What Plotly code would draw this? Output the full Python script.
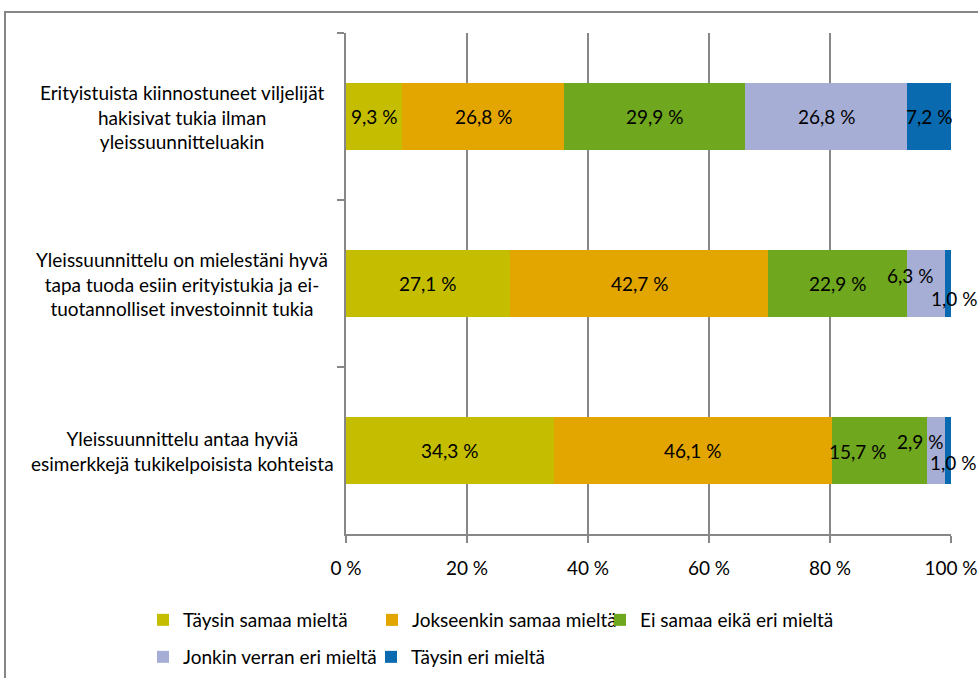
import plotly.graph_objects as go

# ---- data ----
categories = [
    "Erityistuista kiinnostuneet viljelijät<br>hakisivat tukia ilman<br>yleissuunnitteluakin",
    "Yleissuunnittelu on mielestäni hyvä<br>tapa tuoda esiin erityistukia ja ei-<br>tuotannolliset investoinnit tukia",
    "Yleissuunnittelu antaa hyviä<br>esimerkkejä tukikelpoisista kohteista",
]
series_names = [
    "Täysin samaa mieltä",
    "Jokseenkin samaa mieltä",
    "Ei samaa eikä eri mieltä",
    "Jonkin verran eri mieltä",
    "Täysin eri mieltä",
]
taysin_samaa = [9.3, 27.1, 34.3]
jokseenkin_samaa = [26.8, 42.7, 46.1]
ei_samaa_eika_eri = [29.9, 22.9, 15.7]
jonkin_verran_eri = [26.8, 6.3, 2.9]
taysin_eri = [7.2, 1.0, 1.0]
x_tick_values = [0, 20, 40, 60, 80, 100]
x_tick_labels = ["0 %", "20 %", "40 %", "60 %", "80 %", "100 %"]

series_values = [taysin_samaa, jokseenkin_samaa, ei_samaa_eika_eri, jonkin_verran_eri, taysin_eri]
colors = ["#C5BE00", "#E3A500", "#6FA71E", "#A6AED6", "#0A6AAF"]

FONT = "Lato"
FS = 19
L, R, T, B = 346, 27, 33, 144
W, H = 978, 678
PW = W - L - R
PH = H - T - B

def px_x(px):
    return (px - L) / PW

def px_y(py):
    return 1 - (py - T) / PH

# legend item placement (left edge px, centre y px)
legend_pos = [(143, 620), (372, 620), (600, 620), (143, 657), (371, 657)]

fig = go.Figure()
legend_layout = {}
for i, (name, vals) in enumerate(zip(series_names, series_values)):
    lg = "legend" if i == 0 else f"legend{i + 1}"
    fig.add_trace(go.Bar(
        y=categories, x=vals, name=name, orientation="h",
        marker=dict(color=colors[i], line=dict(width=0)),
        legend=lg, hoverinfo="x+name",
    ))
    lx, ly = legend_pos[i]
    legend_layout[lg] = dict(
        orientation="h", x=px_x(lx), xanchor="left", y=px_y(ly), yanchor="middle",
        bgcolor="rgba(0,0,0,0)", borderwidth=0,
        font=dict(family=FONT, size=FS, color="#000000"),
    )

# label offsets for small segments (pixel nudges)
offsets = {
    (3, 1): (-16, 8), (4, 1): (6, -15),
    (2, 2): (-22, -1), (3, 2): (-16, 9), (4, 2): (5, -12),
}
annotations = []
for j, cat in enumerate(categories):
    start = 0.0
    for i, vals in enumerate(series_values):
        v = vals[j]
        dx, dy = offsets.get((i, j), (0, 0))
        annotations.append(dict(
            x=start + v / 2, y=cat, xref="x", yref="y",
            text=f"{v:.1f}".replace(".", ",") + " %",
            showarrow=False, xshift=dx, yshift=dy,
            font=dict(family=FONT, size=FS, color="#000000"),
        ))
        start += v
    annotations.append(dict(
        x=px_x(182), y=cat, xref="paper", yref="y", xanchor="center",
        text=cat, align="center", showarrow=False,
        font=dict(family=FONT, size=FS, color="#000000"),
    ))

fig.update_layout(
    width=W, height=H,
    margin=dict(l=L, r=R, t=T, b=B, autoexpand=False),
    barmode="stack", bargap=0.6,
    plot_bgcolor="white", paper_bgcolor="white",
    font=dict(family=FONT, size=FS, color="#000000"),
    annotations=annotations,
    xaxis=dict(
        range=[0, 100], tickmode="array", tickvals=x_tick_values, ticktext=x_tick_labels,
        showgrid=True, gridcolor="#878787", gridwidth=2,
        showline=True, linecolor="#878787", linewidth=2,
        ticks="outside", ticklen=7, tickwidth=2, tickcolor="#878787",
        zeroline=False, ticklabelstandoff=9,
        tickfont=dict(family=FONT, size=FS, color="#000000"),
        fixedrange=True,
    ),
    yaxis=dict(
        type="category", categoryorder="array", categoryarray=categories,
        autorange="reversed", showticklabels=False, showgrid=False,
        showline=True, linecolor="#878787", linewidth=2,
        ticks="outside", tickson="boundaries", ticklen=7, tickwidth=2,
        tickcolor="#878787", fixedrange=True,
    ),
    shapes=[dict(
        type="rect", xref="paper", yref="paper",
        x0=px_x(5), x1=px_x(995), y0=px_y(700), y1=px_y(12),
        line=dict(color="#868686", width=2), layer="below",
    )],
    showlegend=True,
    **legend_layout,
)

fig.write_html("out.html", config={"displayModeBar": False},
               post_script="document.body.style.margin='0';")
